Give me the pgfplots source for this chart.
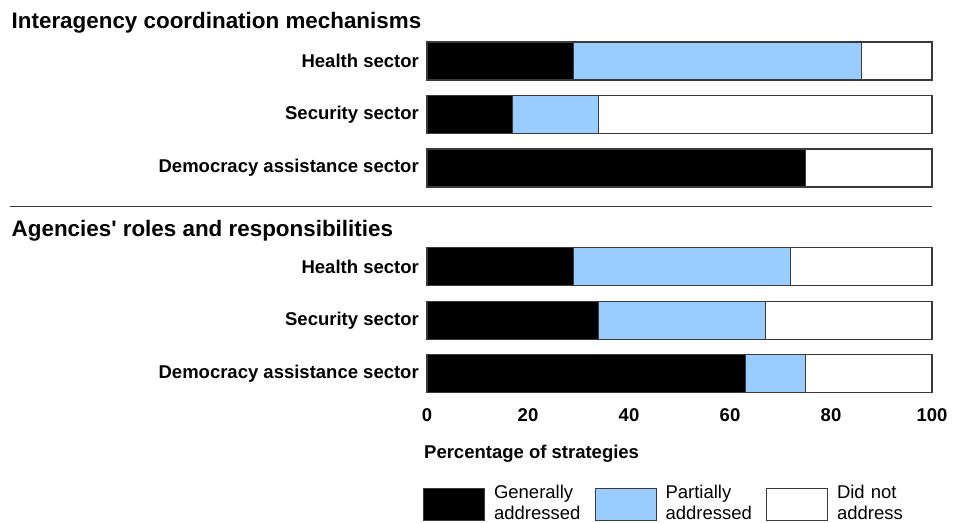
\documentclass[border=0pt]{standalone}
\usepackage{pgfplots}
\pgfplotsset{compat=1.18}
\usepackage{fontspec}
\setmainfont{Liberation Sans}[Ligatures=TeXOff]
\definecolor{pblue}{HTML}{99CCFF}
\definecolor{edge}{HTML}{3A3A3A}
\begin{document}
\begin{tikzpicture}
\useasboundingbox (0,0) rectangle (962bp,-523bp);
\pgfplotsset{
  myaxis/.style={
    xbar stacked,
    scale only axis,
    width=505bp, height=160.5bp,
    xmin=0, xmax=100,
    ymin=-0.5, ymax=2.5,
    y dir=reverse,
    bar width=38bp,
    axis line style={draw=none},
    tick style={draw=none},
    ytick={0,1,2},
    yticklabels={Health sector, Security sector, Democracy assistance sector},
    yticklabel style={font=\fontsize{18.5bp}{22bp}\selectfont\bfseries, inner sep=0pt, xshift=-8bp},
    /pgf/number format/assume math mode=true,
    every axis plot/.append style={draw=edge, line width=1.2bp},
    clip=false,
  },
}
% Titles and separator
\node[anchor=west, font=\fontsize{22.4bp}{26bp}\selectfont\bfseries, inner sep=0pt] at (11.5bp,-23bp) {Interagency coordination mechanisms};
\draw[line width=1bp, edge] (10bp,-206bp) -- (932bp,-206bp);
\node[anchor=west, font=\fontsize{22.4bp}{26bp}\selectfont\bfseries, inner sep=0pt] at (11.5bp,-231bp) {Agencies' roles and responsibilities};

\begin{axis}[myaxis, at={(427bp,-194.75bp)}, anchor=south west, xtick=\empty]
\addplot[fill=black] coordinates {(29,0) (17,1) (75,2)};
\addplot[fill=pblue] coordinates {(57,0) (17,1) (0,2)};
\addplot[fill=white] coordinates {(14,0) (66,1) (25,2)};
\end{axis}

\begin{axis}[myaxis, at={(427bp,-400.5bp)}, anchor=south west,
  xtick={0,20,40,60,80,100},
  xticklabel style={font=\fontsize{18.5bp}{22bp}\selectfont\bfseries, inner sep=0pt, yshift=-8bp},
  xlabel={Percentage of strategies},
  xlabel style={font=\fontsize{18.5bp}{22bp}\selectfont\bfseries, inner sep=0pt, at={(axis description cs:-0.006,-0.331)}, anchor=west},
  legend columns=3,
  legend style={at={(axis description cs:-0.0079,-0.5265)}, anchor=north west, draw=none, inner sep=0pt, outer sep=0pt,
    nodes={font=\fontsize{18.5bp}{21bp}\selectfont, align=left, inner sep=0pt, text width=88bp},
    /tikz/every odd column/.append style={column sep=9bp},
    /tikz/every even column/.append style={column sep=12.5bp}},
  legend image code/.code={\draw[#1, line width=1bp] (0bp,-28.5bp) rectangle (61bp,3.5bp);},
]
\addplot[fill=black] coordinates {(29,0) (34,1) (63,2)};
\addplot[fill=pblue] coordinates {(43,0) (33,1) (12,2)};
\addplot[fill=white] coordinates {(28,0) (33,1) (25,2)};
\legend{Generally\\addressed, Partially\\addressed, Did not\\address}
\end{axis}
\end{tikzpicture}
\end{document}
